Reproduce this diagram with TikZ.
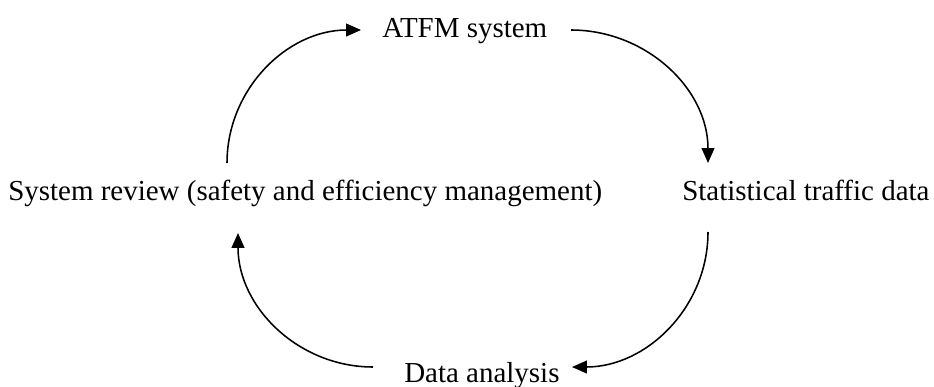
\documentclass[tikz,border=0pt]{standalone}
\usepackage{fontspec}
\setmainfont{Liberation Serif}[Ligatures={TeX,NoCommon}]
\usepackage{tikz}
\usetikzlibrary{arrows.meta,positioning,calc}

\tikzset{
    txt/.style={inner sep=0pt, anchor=base west, font=\fontsize{20.6}{24}\selectfont},
    arr/.style={-{Triangle[length=10.5pt,width=9pt]}, line width=1.1pt, black}
}

\begin{document}
\begin{tikzpicture}[x=0.025cm, y=0.025cm]
    \useasboundingbox (0,0) rectangle (934,-387);

    \node[txt] (atfm) at (382,-38) {ATFM system};
    \node[txt] (stat) at (682,-200) {Statistical traffic data};
    \node[txt] (data) at (404,-382) {Data analysis};
    \node[txt] (review) at (8,-200) {System review (safety and efficiency management)};

    \draw[arr] ($(review.base west)+(219,37)$) to[out=90, in=180] ($(atfm.base west)+(-21,8)$);
    \draw[arr] ($(atfm.base west)+(189,8)$) to[out=0, in=90] ($(stat.base west)+(26,37)$);
    \draw[arr] ($(stat.base west)+(26,-32)$) to[out=-90, in=0] ($(data.base west)+(168,15)$);
    \draw[arr] ($(data.base west)+(-31,15)$) to[out=180, in=-90] ($(review.base west)+(230,-33)$);
\end{tikzpicture}
\end{document}
